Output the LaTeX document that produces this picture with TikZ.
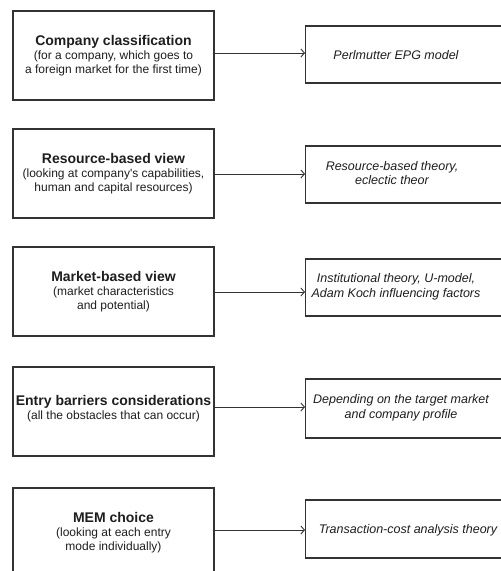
\documentclass[tikz,border=0pt]{standalone}
\usepackage{fontspec}
\setmainfont{Liberation Sans}[Ligatures=TeXOff]
\usetikzlibrary{arrows.meta}
\definecolor{linegray}{HTML}{333333}
\definecolor{textgray}{HTML}{1E1E1E}
\tikzset{
  lbox/.style={draw=linegray, line width=1.1pt, minimum width=201pt, minimum height=89pt,
    inner sep=0pt, align=center, text=textgray, font=\fontsize{12}{14}\selectfont},
  rbox/.style={draw=linegray, line width=1.1pt, minimum width=197pt, minimum height=57pt,
    inner sep=0pt, anchor=west},
  rtext/.style={align=center, text=textgray, inner sep=0pt, font=\fontsize{12.5}{14.5}\selectfont\itshape},
  conn/.style={draw=linegray, line width=0.9pt, -{Straight Barb[length=3.5pt,width=8pt,line width=0.9pt]}}
}
\begin{document}
\begin{tikzpicture}[x=1pt,y=-1pt]
\clip (0,0) rectangle (501,571);
\fill[white] (0,0) rectangle (501,571);

% left boxes
\node[lbox] (l1) at (113.5,55.5) {{\fontsize{14}{16}\selectfont\bfseries Company classification}\\(for a company, which goes to\\a foreign market for the first time)};
\node[lbox] (l2) at (113.5,173.5) {{\fontsize{14}{16}\selectfont\bfseries Resource-based view}\\(looking at company's capabilities,\\human and capital resources)};
\node[lbox] (l3) at (113.5,291.5) {{\fontsize{14}{16}\selectfont\bfseries Market-based view}\\(market characteristics\\and potential)};
\node[lbox] (l4) at (113.5,411.5) {{\fontsize{14}{16}\selectfont\bfseries Entry barriers considerations}\\(all the obstacles that can occur)\\[-6pt]\mbox{}};
\node[lbox] (l5) at (113.5,532.5) {{\fontsize{14}{16}\selectfont\bfseries MEM choice}\\(looking at each entry\\mode individually)};

% right boxes
\node[rbox] (r1) at (305,54.5) {};
\node[rbox] (r2) at (305,174.5) {};
\node[rbox] (r3) at (305,287.5) {};
\node[rbox, minimum height=59pt] (r4) at (305,408.5) {};
\node[rbox, minimum height=58pt] (r5) at (305,529) {};

\node[rtext] (t1) at (396,55) {Perlmutter EPG model};
\node[rtext] (t2) at (392,173) {Resource-based theory,\\eclectic theor};
\node[rtext] (t3) at (396,287) {Institutional theory, U-model,\\Adam Koch influencing factors};
\node[rtext] (t4) at (401,408) {Depending on the target market\\and company profile};
\node[rtext] (t5) at (408,530) {Transaction-cost analysis theory};

% connectors
\draw[conn] (l1.east |- 0,53) -- (r1.west |- 0,53);
\draw[conn] (l2.east |- 0,174) -- (r2.west |- 0,174);
\draw[conn] (l3.east |- 0,292) -- (r3.west |- 0,292);
\draw[conn] (l4.east |- 0,407) -- (r4.west |- 0,407);
\draw[conn] (l5.east |- 0,530) -- (r5.west |- 0,530);
\end{tikzpicture}
\end{document}
